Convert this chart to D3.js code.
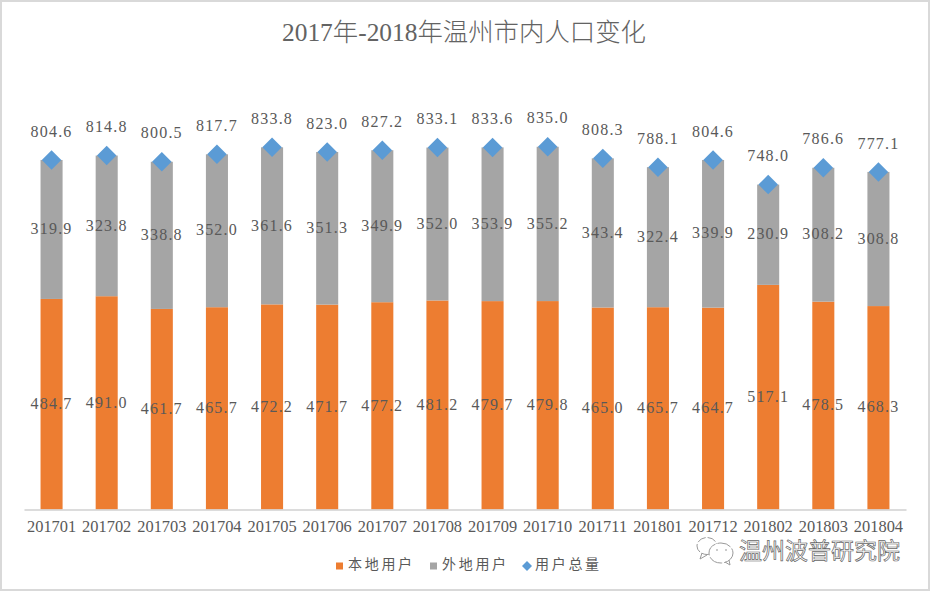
<!DOCTYPE html>
<html><head><meta charset="utf-8">
<script src="https://cdnjs.cloudflare.com/ajax/libs/d3/7.8.5/d3.min.js"></script>
<style>html,body{margin:0;padding:0;background:#fff}svg{display:block}
text{font-family:"Liberation Serif","Noto Sans CJK SC",serif;fill:#595959}</style></head>
<body><svg id="c" width="930" height="592"></svg>
<script>
const titleText = "2017年-2018年温州市内人口变化";
const categories = ["201701","201702","201703","201704","201705","201706","201707","201708","201709","201710","201711","201801","201712","201802","201803","201804"];
const localUsers = [484.7,491.0,461.7,465.7,472.2,471.7,477.2,481.2,479.7,479.8,465.0,465.7,464.7,517.1,478.5,468.3];
const outsideUsers = [319.9,323.8,338.8,352.0,361.6,351.3,349.9,352.0,353.9,355.2,343.4,322.4,339.9,230.9,308.2,308.8];
const totalUsers = [804.6,814.8,800.5,817.7,833.8,823.0,827.2,833.1,833.6,835.0,808.3,788.1,804.6,748.0,786.6,777.1];
const legendNames = ["本地用户","外地用户","用户总量"];
const colors = ["#ed7d31","#a5a5a5","#5b9bd5"];
const watermark = "温州波普研究院";

const svg = d3.select("#c");
const fmt = d3.format(".1f");
svg.append("rect").attr("x",1).attr("y",1).attr("width",928).attr("height",589)
  .attr("fill","#fff").attr("stroke","#d9d9d9").attr("stroke-width",2);

const x = d3.scaleBand().domain(categories).range([24,906]).paddingInner(0.6).paddingOuter(0.3);
const y = d3.scaleLinear().domain([0,1000]).range([509.5,75.1]);

svg.append("text").attr("x",464).attr("y",41).attr("text-anchor","middle")
  .attr("font-size",25.4).style("font-weight",300).style("fill","#636363").text(titleText);

const bar = (vals, base, color) => svg.append("g").selectAll("rect").data(categories).join("rect")
  .attr("x",d=>x(d)).attr("width",x.bandwidth())
  .attr("y",(d,i)=>y(base(i)+vals[i])).attr("height",(d,i)=>y(base(i))-y(base(i)+vals[i]))
  .attr("fill",color);
bar(localUsers, ()=>0, colors[0]);
bar(outsideUsers, i=>localUsers[i], colors[1]);

const axis = d3.axisBottom(x).tickSize(0).tickPadding(11);
const ax = svg.append("g").attr("transform","translate(0,509.5)").call(axis);
ax.select(".domain").attr("stroke","#d0d0d0").attr("stroke-width",1.5);
ax.selectAll("text").attr("font-size",16.4).attr("font-family",'"Liberation Serif"').attr("fill","#595959");

svg.append("g").selectAll("path").data(categories).join("path")
  .attr("transform",(d,i)=>`translate(${x(d)+x.bandwidth()/2},${y(totalUsers[i])}) rotate(45)`)
  .attr("d",d3.symbol().type(d3.symbolSquare).size(190)).attr("fill",colors[2]);

const labels = (vals, py) => svg.append("g").selectAll("text").data(categories).join("text")
  .attr("x",d=>x(d)+x.bandwidth()/2).attr("y",py)
  .attr("text-anchor","middle").attr("font-size",16).attr("letter-spacing",1.2)
  .attr("dominant-baseline","middle").text((d,i)=>fmt(vals[i]));
labels(localUsers, (d,i)=>y(localUsers[i]/2)+1);
labels(outsideUsers, (d,i)=>y(localUsers[i]+outsideUsers[i]/2)+1);
labels(totalUsers, (d,i)=>y(totalUsers[i])-27);

const legendX = [336,430,522];
legendNames.forEach((n,i)=>{
  const g = svg.append("g").attr("transform",`translate(${legendX[i]},566)`);
  if(i<2) g.append("rect").attr("x",0).attr("y",-3.5).attr("width",7).attr("height",7).attr("fill",colors[i]);
  else g.append("path").attr("transform","translate(5,0) rotate(45)").attr("d",d3.symbol().type(d3.symbolSquare).size(50)).attr("fill",colors[i]);
  g.append("text").attr("x",i<2?12:13).attr("y",0).attr("dominant-baseline","middle").attr("font-size",14)
    .attr("letter-spacing",2.7).text(n);
});

const wm = svg.append("g").attr("fill","none").attr("stroke","#9a9a9a").attr("stroke-width",1);
wm.append("ellipse").attr("cx",707).attr("cy",546).attr("rx",10).attr("ry",8.5).attr("stroke-dasharray","9 2");
wm.append("path").attr("d",d3.line()([[702,553],[700,559],[707,555]]));
wm.append("ellipse").attr("cx",721).attr("cy",553).attr("rx",12).attr("ry",10).attr("fill","#fff").attr("stroke-dasharray","14 2");
wm.append("path").attr("d",d3.line()([[725,562],[730,565],[729,560]]));
wm.selectAll(".eye").data([717,726]).join("circle").attr("cx",d=>d).attr("cy",550).attr("r",0.8).attr("fill","#888").attr("stroke","none");
svg.append("text").attr("x",739).attr("y",559).attr("font-size",23)
  .attr("stroke","#666").attr("stroke-width",0.7).style("fill","#fff").style("font-family",'"Noto Sans CJK SC"').text(watermark);
</script></body></html>
